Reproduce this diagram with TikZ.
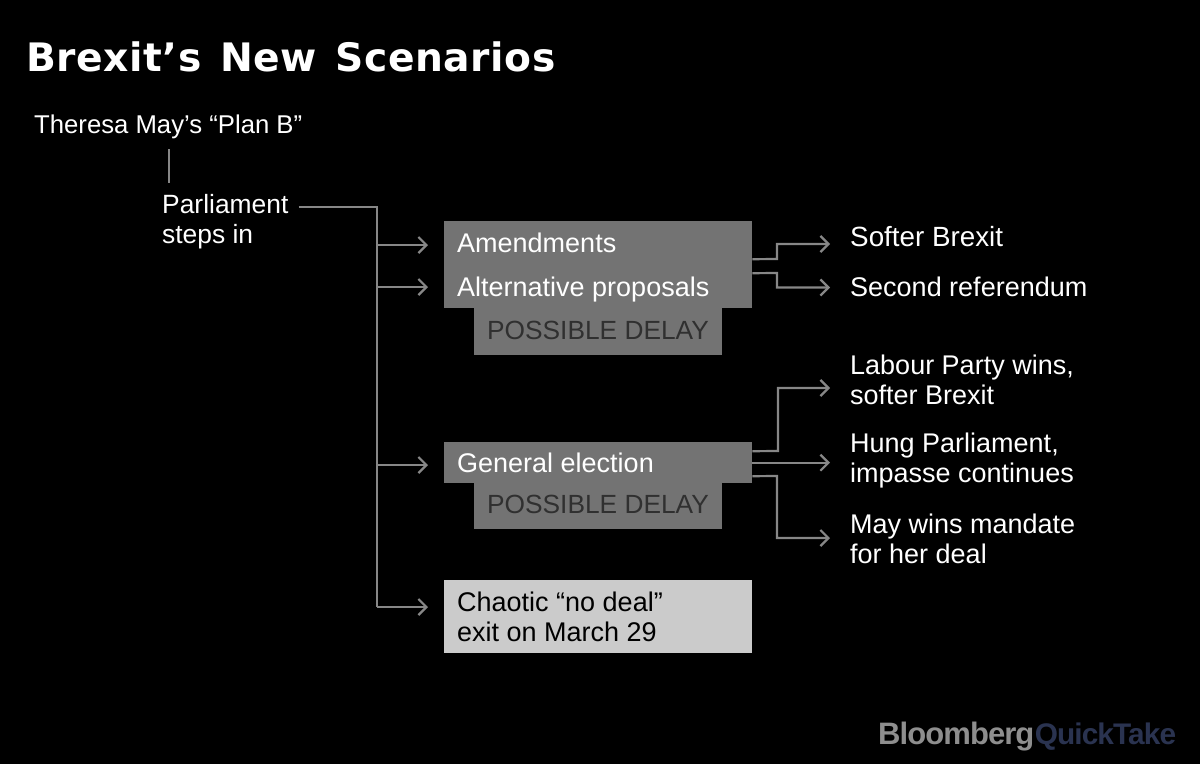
\documentclass[tikz,border=0pt]{standalone}
\usepackage{fontspec}
\setmainfont{Liberation Sans}
\newfontfamily\titlefont[LetterSpace=1.5,WordSpace=1.3]{DejaVu Sans Bold}
\newfontfamily\logofont[LetterSpace=-3]{Liberation Sans Bold}
\usetikzlibrary{arrows.meta}
\definecolor{boxgray}{HTML}{737373}
\definecolor{palegray}{HTML}{CBCBCB}
\definecolor{linegray}{HTML}{878787}
\definecolor{delaytext}{HTML}{303030}
\definecolor{logogray}{HTML}{8E8E8E}
\definecolor{quicknavy}{HTML}{2A3350}
\begin{document}
\begin{tikzpicture}[x=1pt, y=-1pt,
        label/.style={inner sep=0pt, text=white, align=left, anchor=west, font=\fontsize{27}{30}\selectfont},
        darkbox/.style={fill=boxgray, minimum height=#1, minimum width=308pt, anchor=north west, inner sep=0pt},
        delaybox/.style={fill=boxgray, minimum width=248pt, minimum height=60pt, anchor=north west, inner sep=0pt},
        delaytag/.style={label, text=delaytext, anchor=center, font=\fontsize{26.3}{30}\selectfont},
        link/.style={draw=linegray, line width=2.2pt},
        linkto/.style={link, -{Straight Barb[length=8pt, width=16pt, line width=2.2pt]}}]
    \useasboundingbox (0,0) rectangle (1200,764);
    \fill[black] (0,0) rectangle (1200,764);

    \node[label, anchor=base west, font=\titlefont\fontsize{39.2}{44}\selectfont] (title) at (26,71) {Brexit’s New Scenarios};
    \node[label, anchor=base west, font=\fontsize{25.7}{30}\selectfont] (may) at (34,133) {Theresa May’s “Plan B”};
    \node[label, font=\fontsize{26.4}{30}\selectfont] (parl) at (162,222) {Parliament\\steps in};

    % boxes
    \node[delaybox] (delayone) at (474,295) {};
    \node[darkbox=87pt] (amendbox) at (444,221) {};
    \node[delaybox] (delaytwo) at (474,469) {};
    \node[darkbox=41pt] (electbox) at (444,442) {};
    \node[darkbox=73pt, fill=palegray] (chaosbox) at (444,580) {};

    \node[label, anchor=base west] (amend) at (457,252) {Amendments};
    \node[label, anchor=base west] (altprop) at (457,296) {Alternative proposals};
    \node[delaytag] (delaytagone) at (598,330) {POSSIBLE DELAY};
    \node[label, anchor=base west] (elect) at (457,472) {General election};
    \node[delaytag] (delaytagtwo) at (598,504) {POSSIBLE DELAY};
    \node[label, text=black] (chaos) at (457,616.5) {Chaotic “no deal”\\exit on March 29};

    \node[label, anchor=base west, font=\fontsize{27.8}{30}\selectfont] (soft) at (850,246) {Softer Brexit};
    \node[label, anchor=base west] (second) at (850,296) {Second referendum};
    \node[label] (labour) at (850,380) {Labour Party wins,\\softer Brexit};
    \node[label] (hung) at (850,461) {Hung Parliament,\\impasse continues};
    \node[label] (wins) at (850,539) {May wins mandate\\for her deal};

    \node[label, anchor=base west, text=logogray, font=\logofont\fontsize{31}{34}\selectfont] (logoa) at (878,744) {Bloomberg};
    \node[label, anchor=base west, text=quicknavy, font=\logofont\fontsize{29.8}{34}\selectfont] (logob) at (logoa.base east) {QuickTake};

    \coordinate (trunk) at (377,207);
    \coordinate (stemtop) at (169,149);
    \coordinate (stembot) at (169,183);

    \draw[link] (stemtop) -- (stembot);
    \draw[link] ([xshift=10pt]parl.east |- trunk) -- (trunk) -- (trunk |- 0,607);
    \draw[linkto, shorten >=16pt] (trunk |- 0,245) -- (amendbox.west |- 0,245);
    \draw[linkto, shorten >=16pt] (trunk |- 0,287) -- (amendbox.west |- 0,287);
    \draw[linkto, shorten >=16pt] (trunk |- 0,465) -- (electbox.west |- 0,465);
    \draw[linkto, shorten >=16pt] (trunk |- 0,607) -- (chaosbox.west |- 0,607);

    \draw[linkto, shorten >=20pt] ([yshift=5.5pt]amendbox.east) -- (777,259) |- (soft.west |- 0,244);
    \draw[linkto, shorten >=20pt] ([yshift=-8.5pt]amendbox.east) -- (777,273) |- (second.west |- 0,287.5);
    \draw[linkto, shorten >=20pt] ([yshift=11.5pt]electbox.east) -- (778,451) |- (labour.west |- 0,388);
    \draw[linkto, shorten >=20pt] (electbox.east) -- (hung.west |- electbox.east);
    \draw[linkto, shorten >=20pt] ([yshift=-13.5pt]electbox.east) -- (777,476) |- (wins.west |- 0,538);
\end{tikzpicture}
\end{document}
